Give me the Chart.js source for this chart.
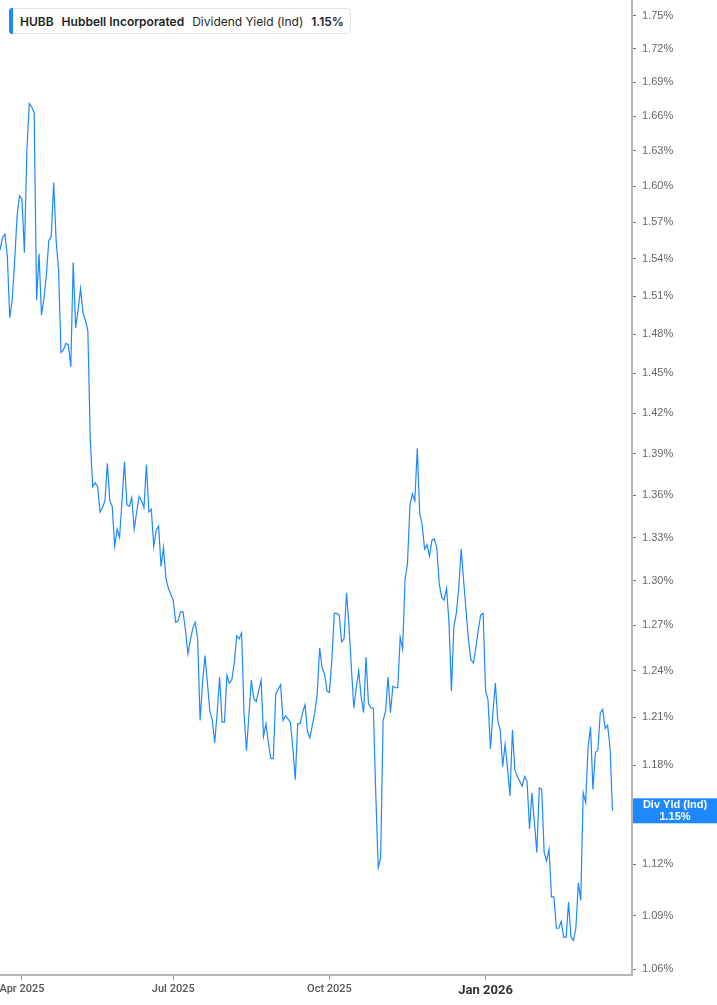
<!DOCTYPE html>
<html>
<head>
<meta charset="utf-8">
<script src="https://cdn.jsdelivr.net/npm/chart.js@4.4.1/dist/chart.umd.min.js"></script>
<style>
  html, body { margin: 0; padding: 0; background: #fff; }
  #wrap { position: relative; width: 717px; height: 1005px; overflow: hidden; }
  #legend {
    position: absolute; left: 9px; top: 8px; height: 26px;
    border: 1px solid #e4e4e4; border-radius: 4px; background: #fff;
    font-family: Inter, Roboto, "Liberation Sans", sans-serif; font-size: 12px; color: #1f1f1f;
    display: flex; align-items: center; padding: 0 6px 0 10px; box-sizing: border-box;
    white-space: nowrap;
  }
  #legend .bar { position: absolute; left: -1px; top: -1px; bottom: -1px; width: 4px; background: #1e88ff; border-radius: 3px 0 0 3px; }
  #legend b { font-weight: 600; }
  #legend span { margin-right: 8px; }
  #legend span:last-child { margin-right: 0; }
</style>
</head>
<body>
<div id="wrap">
  <canvas id="c" width="717" height="1005"></canvas>
  <div id="legend"><div class="bar"></div><span><b>HUBB</b></span><span><b>Hubbell Incorporated</b></span><span>Dividend Yield (Ind)</span><span><b>1.15%</b></span></div>
</div>
<script>
// Dividend yield (%) per trading day, Mar 19 2025 .. Mar 18 2026 (index = trading day)
const divYield = [
1.547,1.557,1.560,1.542,1.493,1.507,1.538,1.575,1.592,1.589,
1.545,1.630,1.671,1.668,1.663,1.507,1.544,1.495,1.508,1.527,
1.555,1.558,1.603,1.555,1.531,1.466,1.468,1.473,1.472,1.455,
1.537,1.485,1.499,1.516,1.497,1.491,1.483,1.400,1.366,1.369,
1.366,1.348,1.351,1.356,1.383,1.356,1.352,1.324,1.336,1.330,
1.356,1.384,1.353,1.352,1.358,1.336,1.348,1.359,1.356,1.351,
1.382,1.348,1.350,1.324,1.335,1.338,1.310,1.323,1.302,1.295,
1.291,1.287,1.272,1.273,1.279,1.279,1.267,1.251,1.260,1.268,
1.272,1.261,1.208,1.232,1.250,1.232,1.214,1.208,1.194,1.213,
1.236,1.207,1.207,1.237,1.232,1.234,1.245,1.263,1.261,1.265,
1.213,1.189,1.211,1.234,1.222,1.220,1.227,1.234,1.198,1.206,
1.194,1.184,1.184,1.225,1.228,1.231,1.208,1.211,1.209,1.207,
1.191,1.171,1.206,1.206,1.213,1.218,1.201,1.197,1.205,1.213,
1.225,1.255,1.242,1.238,1.227,1.226,1.247,1.278,1.278,1.277,
1.259,1.261,1.292,1.270,1.242,1.216,1.229,1.240,1.223,1.213,
1.249,1.219,1.216,1.216,1.162,1.118,1.124,1.208,1.214,1.236,
1.213,1.230,1.229,1.229,1.262,1.254,1.301,1.312,1.353,1.361,
1.356,1.394,1.347,1.339,1.322,1.325,1.317,1.328,1.329,1.323,
1.298,1.289,1.287,1.295,1.272,1.227,1.269,1.278,1.295,1.322,
1.300,1.280,1.260,1.247,1.245,1.255,1.267,1.277,1.278,1.227,
1.221,1.190,1.213,1.232,1.208,1.202,1.179,1.193,1.178,1.161,
1.202,1.177,1.173,1.170,1.167,1.173,1.170,1.141,1.163,1.145,
1.127,1.166,1.165,1.127,1.122,1.129,1.101,1.101,1.083,1.083,
1.087,1.078,1.078,1.098,1.078,1.076,1.083,1.109,1.099,1.163,
1.157,1.191,1.204,1.165,1.188,1.189,1.213,1.215,1.203,1.205,
1.191,1.152
];
// x-axis tick positions (trading-day index) and labels
const xTickIdx = [9, 71, 135, 199];
const xTickText = ['Apr 2025', 'Jul 2025', 'Oct 2025', 'Jan 2026'];
// y-axis tick values (%)
const yTicks = [1.06,1.09,1.12,1.15,1.18,1.21,1.24,1.27,1.30,1.33,1.36,1.39,1.42,1.45,1.48,1.51,1.54,1.57,1.60,1.63,1.66,1.69,1.72,1.75];
const seriesName = 'Div Yld (Ind)';

const BLUE = '#1e88ff';

const badgePlugin = {
  id: 'lastBadge',
  afterDraw(chart) {
    const ctx = chart.ctx;
    const ys = chart.scales.y;
    const last = divYield[divYield.length - 1];
    const cy = ys.getPixelForValue(last);
    const x0 = chart.chartArea.right + 1;
    const w = chart.width - x0;
    const h = 25;
    ctx.save();
    ctx.fillStyle = BLUE;
    ctx.fillRect(x0, cy - h / 2, w, h);
    ctx.fillStyle = '#ffffff';
    ctx.textAlign = 'center';
    ctx.textBaseline = 'middle';
    ctx.font = 'bold 11px "Liberation Sans", Arial, sans-serif';
    ctx.fillText(seriesName, x0 + w / 2, cy - 5.5);
    ctx.fillText(last.toFixed(2) + '%', x0 + w / 2, cy + 6);
    ctx.restore();
  }
};

new Chart(document.getElementById('c'), {
  type: 'line',
  data: {
    datasets: [{
      label: seriesName,
      data: divYield.map((v, i) => ({ x: i, y: v })),
      borderColor: BLUE,
      borderWidth: 1.2,
      pointRadius: 0,
      tension: 0,
      fill: false
    }]
  },
  options: {
    responsive: false,
    animation: false,
    layout: { padding: 0 },
    plugins: { legend: { display: false }, tooltip: { enabled: false } },
    scales: {
      x: {
        type: 'linear',
        min: 0,
        max: 259,
        afterBuildTicks(scale) { scale.ticks = xTickIdx.map(v => ({ value: v })); },
        afterFit(scale) { scale.height = 30; scale.paddingLeft = 0; scale.paddingRight = 0; },
        grid: { drawOnChartArea: false, drawTicks: true, tickLength: 5, color: '#9a9a9a', lineWidth: 1 },
        border: { display: true, color: '#b4b4b4', width: 2 },
        ticks: {
          autoSkip: false, maxRotation: 0, padding: 3,
          color: (c) => (c.tick && c.tick.value === 199) ? '#333' : '#555',
          font: (c) => (c.tick && c.tick.value === 199)
            ? { family: 'Roboto, "Liberation Sans", sans-serif', size: 13, weight: 'bold' }
            : { family: 'Roboto, "Liberation Sans", sans-serif', size: 11, weight: '500' },
          callback: (v) => { const k = xTickIdx.indexOf(v); return k >= 0 ? xTickText[k] : ''; }
        }
      },
      y: {
        type: 'logarithmic',
        position: 'right',
        min: 1.0567,
        max: 1.7645,
        afterBuildTicks(scale) { scale.ticks = yTicks.map(v => ({ value: v })); },
        afterFit(scale) { scale.width = 85; scale.paddingTop = 0; scale.paddingBottom = 0; },
        grid: { drawOnChartArea: false, drawTicks: true, tickLength: 4, color: '#777', lineWidth: 1 },
        border: { display: true, color: '#b4b4b4', width: 2 },
        ticks: {
          padding: 6,
          color: '#666',
          font: { family: '"Liberation Sans", Arial, sans-serif', size: 11 },
          callback: (v) => Number(v).toFixed(2) + '%'
        }
      }
    }
  },
  plugins: [badgePlugin]
});
</script>
</body>
</html>
